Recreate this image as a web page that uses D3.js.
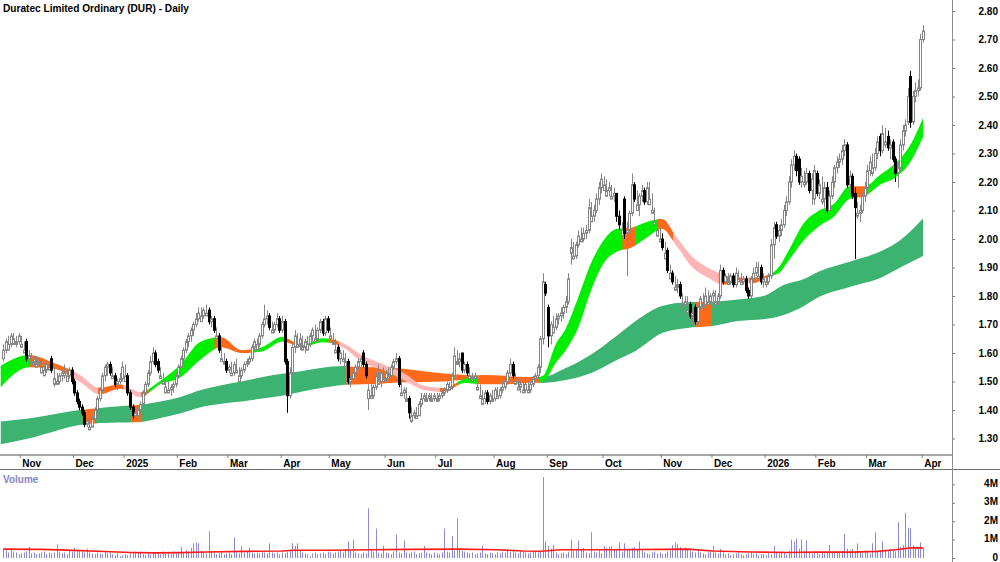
<!DOCTYPE html>
<html>
<head>
<meta charset="utf-8">
<script src="https://cdn.jsdelivr.net/npm/d3@7"></script>
<style>
body { margin: 0; background: #fff; }
svg { display: block; }
</style>
</head>
<body>
<svg id="chart" width="1000" height="562"></svg>
<script>
// daily bars, index 0 = 23 Oct 2024 ... 363 = 1 Apr 2026
let open = [
1.58,1.61,1.61,1.63,1.63,1.63,1.64,1.62,1.60,1.64,
1.58,1.56,1.57,1.55,1.56,1.53,1.52,1.54,1.54,1.58,
1.49,1.49,1.50,1.52,1.52,1.50,1.52,1.54,1.50,1.46,
1.43,1.41,1.39,1.35,1.33,1.34,1.37,1.40,1.44,1.47,
1.52,1.55,1.56,1.51,1.52,1.49,1.50,1.51,1.50,1.52,
1.46,1.41,1.38,1.38,1.40,1.42,1.46,1.49,1.53,1.57,
1.60,1.57,1.51,1.49,1.46,1.46,1.47,1.48,1.49,1.52,
1.55,1.58,1.61,1.64,1.66,1.68,1.70,1.72,1.71,1.73,
1.73,1.75,1.71,1.72,1.65,1.66,1.57,1.56,1.57,1.54,
1.52,1.53,1.53,1.50,1.52,1.54,1.56,1.57,1.58,1.62,
1.61,1.63,1.66,1.70,1.72,1.73,1.67,1.68,1.70,1.72,
1.68,1.71,1.57,1.45,1.53,1.62,1.62,1.63,1.61,1.62,
1.61,1.63,1.66,1.64,1.65,1.68,1.71,1.67,1.72,1.65,
1.63,1.60,1.62,1.58,1.57,1.55,1.57,1.50,1.51,1.53,
1.55,1.57,1.60,1.56,1.44,1.44,1.45,1.48,1.49,1.50,
1.50,1.51,1.51,1.52,1.55,1.57,1.58,1.45,1.46,1.43,
1.44,1.36,1.38,1.37,1.38,1.42,1.44,1.43,1.44,1.43,
1.44,1.43,1.44,1.45,1.46,1.47,1.47,1.48,1.52,1.56,
1.57,1.60,1.54,1.56,1.51,1.50,1.51,1.47,1.44,1.42,
1.44,1.46,1.43,1.43,1.44,1.44,1.45,1.47,1.48,1.50,
1.53,1.56,1.49,1.47,1.48,1.46,1.47,1.46,1.47,1.49,
1.51,1.52,1.55,1.65,1.84,1.76,1.66,1.67,1.69,1.72,
1.73,1.74,1.76,1.78,1.95,1.93,1.94,1.98,1.99,2.00,
2.02,2.03,2.06,2.08,2.10,2.14,2.18,2.17,2.15,2.17,
2.14,2.15,2.16,2.08,2.01,2.14,2.02,2.03,2.09,2.19,
2.10,2.12,2.15,2.17,2.13,2.12,2.09,2.05,2.01,1.99,
2.00,1.93,1.96,1.86,1.88,1.82,1.83,1.84,1.76,1.77,
1.74,1.77,1.73,1.76,1.71,1.76,1.76,1.77,1.77,1.78,
1.80,1.77,1.78,1.80,1.89,1.85,1.84,1.85,1.87,1.84,
1.85,1.84,1.85,1.86,1.82,1.80,1.86,1.88,1.86,1.90,
1.85,1.84,1.85,1.87,1.98,2.05,2.01,2.03,2.05,2.10,
2.13,2.20,2.26,2.29,2.28,2.20,2.19,2.20,2.23,2.17,
2.14,2.23,2.16,2.13,2.14,2.18,2.10,2.15,2.20,2.25,
2.27,2.28,2.31,2.33,2.19,2.22,2.16,2.08,2.09,2.10,
2.15,2.18,2.24,2.23,2.25,2.30,2.36,2.31,2.33,2.36,
2.32,2.34,2.28,2.23,2.25,2.33,2.38,2.41,2.57,2.41,
2.50,2.52,2.53,2.70]
let high = [
1.63,1.65,1.66,1.67,1.67,1.66,1.67,1.66,1.64,1.65,
1.61,1.60,1.59,1.59,1.58,1.58,1.56,1.57,1.57,1.59,
1.55,1.53,1.53,1.54,1.56,1.54,1.55,1.55,1.51,1.47,
1.44,1.42,1.40,1.37,1.37,1.38,1.41,1.45,1.48,1.53,
1.56,1.57,1.57,1.55,1.53,1.51,1.53,1.57,1.56,1.53,
1.47,1.42,1.40,1.41,1.43,1.47,1.50,1.54,1.59,1.62,
1.61,1.58,1.55,1.53,1.51,1.50,1.49,1.50,1.53,1.56,
1.59,1.62,1.65,1.67,1.69,1.71,1.74,1.76,1.76,1.76,
1.77,1.76,1.73,1.73,1.69,1.67,1.62,1.60,1.58,1.56,
1.57,1.57,1.58,1.55,1.55,1.57,1.58,1.59,1.63,1.65,
1.65,1.67,1.71,1.77,1.75,1.74,1.71,1.71,1.74,1.73,
1.73,1.72,1.58,1.55,1.63,1.68,1.67,1.67,1.66,1.65,
1.66,1.67,1.69,1.70,1.69,1.72,1.72,1.73,1.73,1.69,
1.67,1.65,1.63,1.61,1.61,1.60,1.58,1.52,1.54,1.56,
1.58,1.59,1.61,1.57,1.49,1.50,1.49,1.53,1.56,1.54,
1.55,1.54,1.55,1.56,1.58,1.60,1.59,1.50,1.48,1.48,
1.45,1.41,1.40,1.41,1.43,1.46,1.46,1.46,1.46,1.46,
1.46,1.46,1.46,1.47,1.48,1.50,1.50,1.53,1.62,1.61,
1.60,1.60,1.57,1.57,1.55,1.53,1.53,1.52,1.49,1.47,
1.47,1.47,1.46,1.47,1.48,1.48,1.48,1.50,1.52,1.54,
1.58,1.57,1.53,1.51,1.50,1.50,1.50,1.50,1.50,1.52,
1.53,1.56,1.66,1.88,1.85,1.77,1.71,1.73,1.74,1.74,
1.76,1.77,1.80,1.88,2.00,1.99,1.99,2.03,2.04,2.04,
2.05,2.14,2.13,2.12,2.16,2.20,2.23,2.22,2.21,2.20,
2.19,2.18,2.16,2.10,2.06,2.15,2.06,2.10,2.23,2.20,
2.17,2.16,2.19,2.18,2.20,2.20,2.16,2.11,2.07,2.04,
2.02,1.99,1.97,1.91,1.89,1.87,1.86,1.85,1.81,1.80,
1.80,1.78,1.75,1.77,1.77,1.80,1.81,1.83,1.82,1.81,
1.82,1.82,1.81,1.91,1.90,1.88,1.88,1.88,1.88,1.90,
1.89,1.88,1.87,1.87,1.83,1.87,1.90,1.92,1.92,1.91,
1.88,1.87,1.88,2.00,2.06,2.06,2.05,2.07,2.12,2.15,
2.22,2.28,2.31,2.30,2.29,2.25,2.24,2.25,2.24,2.23,
2.26,2.24,2.21,2.22,2.20,2.20,2.17,2.22,2.26,2.29,
2.30,2.33,2.35,2.34,2.24,2.23,2.18,2.13,2.12,2.16,
2.20,2.26,2.29,2.30,2.32,2.36,2.37,2.40,2.39,2.38,
2.35,2.35,2.29,2.27,2.35,2.40,2.42,2.53,2.59,2.52,
2.55,2.56,2.72,2.75]
let low = [
1.57,1.60,1.61,1.62,1.63,1.62,1.63,1.62,1.60,1.57,
1.57,1.56,1.55,1.55,1.55,1.53,1.52,1.53,1.54,1.53,
1.48,1.49,1.49,1.50,1.51,1.50,1.51,1.49,1.45,1.42,
1.40,1.38,1.34,1.34,1.33,1.34,1.36,1.39,1.43,1.46,
1.50,1.52,1.52,1.51,1.48,1.47,1.49,1.50,1.50,1.45,
1.40,1.37,1.37,1.37,1.39,1.41,1.45,1.48,1.52,1.56,
1.55,1.53,1.51,1.49,1.46,1.46,1.45,1.46,1.48,1.51,
1.54,1.57,1.60,1.62,1.64,1.66,1.69,1.71,1.71,1.72,
1.73,1.70,1.69,1.67,1.65,1.60,1.57,1.56,1.53,1.53,
1.52,1.52,1.53,1.49,1.51,1.53,1.55,1.56,1.57,1.61,
1.61,1.62,1.65,1.69,1.70,1.68,1.67,1.67,1.69,1.67,
1.67,1.56,1.39,1.44,1.52,1.60,1.62,1.61,1.61,1.60,
1.61,1.62,1.64,1.64,1.64,1.67,1.66,1.66,1.67,1.65,
1.63,1.60,1.57,1.56,1.57,1.55,1.49,1.48,1.50,1.52,
1.54,1.55,1.55,1.51,1.40,1.44,1.44,1.47,1.49,1.48,
1.50,1.50,1.51,1.51,1.54,1.56,1.48,1.45,1.44,1.43,
1.37,1.355,1.37,1.37,1.38,1.41,1.43,1.43,1.43,1.43,
1.43,1.43,1.43,1.44,1.45,1.46,1.47,1.47,1.51,1.56,
1.55,1.53,1.53,1.52,1.51,1.50,1.49,1.47,1.44,1.42,
1.42,1.42,1.42,1.43,1.43,1.44,1.44,1.46,1.47,1.49,
1.52,1.51,1.49,1.47,1.46,1.46,1.46,1.46,1.46,1.48,
1.50,1.51,1.53,1.63,1.80,1.62,1.63,1.67,1.68,1.70,
1.71,1.72,1.74,1.77,1.91,1.93,1.93,1.97,1.99,1.99,
2.00,2.02,2.06,2.06,2.09,2.12,2.16,2.17,2.15,2.15,
2.14,2.13,2.06,2.03,2.01,2.00,1.87,2.00,2.08,2.13,
2.10,2.08,2.13,2.12,2.12,2.12,2.09,2.05,2.01,1.99,
1.96,1.93,1.88,1.86,1.84,1.82,1.81,1.79,1.76,1.75,
1.74,1.72,1.70,1.70,1.70,1.75,1.76,1.76,1.77,1.77,
1.78,1.77,1.77,1.79,1.84,1.84,1.84,1.84,1.83,1.83,
1.85,1.84,1.84,1.81,1.79,1.79,1.85,1.87,1.86,1.84,
1.83,1.83,1.84,1.86,1.93,2.00,1.99,2.01,2.04,2.08,
2.12,2.18,2.24,2.22,2.19,2.18,2.18,2.19,2.16,2.12,
2.12,2.15,2.14,2.12,2.11,2.09,2.08,2.14,2.18,2.23,
2.25,2.26,2.29,2.18,2.16,2.14,1.93,2.07,2.06,2.09,
2.13,2.17,2.22,2.22,2.24,2.28,2.29,2.30,2.32,2.31,
2.28,2.27,2.20,2.18,2.24,2.31,2.36,2.40,2.39,2.40,
2.48,2.50,2.52,2.69]
let close = [
1.61,1.64,1.63,1.66,1.65,1.64,1.66,1.63,1.61,1.58,
1.59,1.57,1.58,1.56,1.57,1.55,1.54,1.56,1.55,1.54,
1.51,1.50,1.52,1.53,1.53,1.52,1.54,1.50,1.46,1.43,
1.41,1.39,1.35,1.36,1.34,1.37,1.40,1.44,1.47,1.52,
1.55,1.56,1.53,1.52,1.49,1.50,1.51,1.55,1.52,1.46,
1.41,1.38,1.39,1.40,1.42,1.46,1.49,1.53,1.57,1.60,
1.56,1.54,1.52,1.50,1.48,1.47,1.48,1.49,1.52,1.55,
1.58,1.61,1.64,1.66,1.68,1.70,1.72,1.74,1.73,1.75,
1.74,1.71,1.72,1.68,1.66,1.61,1.58,1.57,1.54,1.55,
1.53,1.56,1.54,1.52,1.54,1.56,1.57,1.58,1.62,1.64,
1.63,1.66,1.70,1.72,1.73,1.69,1.68,1.70,1.72,1.68,
1.71,1.57,1.45,1.53,1.62,1.66,1.63,1.65,1.62,1.64,
1.63,1.66,1.68,1.65,1.68,1.71,1.67,1.72,1.68,1.66,
1.64,1.61,1.58,1.60,1.58,1.57,1.50,1.51,1.53,1.55,
1.57,1.58,1.56,1.52,1.47,1.45,1.48,1.52,1.50,1.53,
1.51,1.53,1.52,1.55,1.57,1.58,1.49,1.46,1.47,1.44,
1.39,1.38,1.39,1.38,1.42,1.44,1.45,1.44,1.45,1.44,
1.45,1.44,1.45,1.46,1.47,1.49,1.48,1.52,1.59,1.57,
1.58,1.54,1.56,1.53,1.52,1.51,1.52,1.48,1.45,1.44,
1.46,1.43,1.45,1.44,1.47,1.45,1.47,1.48,1.50,1.53,
1.56,1.52,1.50,1.48,1.49,1.47,1.49,1.47,1.49,1.51,
1.52,1.55,1.65,1.85,1.81,1.66,1.70,1.69,1.72,1.73,
1.74,1.76,1.78,1.86,1.97,1.94,1.98,2.01,2.00,2.02,
2.03,2.11,2.08,2.10,2.14,2.18,2.21,2.19,2.17,2.18,
2.15,2.16,2.08,2.05,2.03,2.02,2.03,2.09,2.19,2.14,
2.12,2.15,2.17,2.13,2.18,2.14,2.10,2.06,2.03,2.00,
1.97,1.95,1.89,1.88,1.85,1.83,1.84,1.80,1.77,1.78,
1.75,1.73,1.74,1.71,1.76,1.79,1.77,1.80,1.78,1.80,
1.81,1.78,1.80,1.89,1.85,1.87,1.85,1.87,1.84,1.88,
1.86,1.85,1.86,1.82,1.80,1.86,1.88,1.90,1.87,1.85,
1.86,1.85,1.87,1.98,2.04,2.01,2.03,2.05,2.10,2.13,
2.20,2.26,2.29,2.24,2.20,2.22,2.20,2.23,2.17,2.21,
2.24,2.16,2.19,2.14,2.18,2.10,2.15,2.20,2.25,2.27,
2.28,2.31,2.33,2.19,2.22,2.15,2.11,2.09,2.10,2.15,
2.18,2.24,2.27,2.25,2.30,2.34,2.31,2.37,2.34,2.32,
2.33,2.28,2.23,2.25,2.33,2.38,2.40,2.50,2.41,2.50,
2.52,2.53,2.70,2.73]
// volume in millions of shares
let volume = [
0.50,0.45,0.30,0.55,0.35,0.30,0.20,0.25,0.30,0.35,
0.60,0.25,0.30,0.20,0.25,0.30,0.35,0.20,0.30,0.25,
0.30,0.75,0.35,0.25,0.30,0.20,0.40,0.35,0.55,0.45,
0.40,0.35,0.30,0.50,0.30,0.25,0.20,0.30,0.25,0.20,
0.35,0.25,0.30,0.20,0.15,0.25,0.10,0.15,0.20,0.15,
0.25,0.30,0.35,0.30,0.35,0.20,0.15,0.25,0.20,0.30,
0.25,0.30,0.20,0.35,0.25,0.30,0.20,0.35,0.25,0.30,
0.60,0.30,0.45,0.35,0.55,0.80,0.85,0.80,0.40,0.30,
0.25,1.45,0.35,0.30,0.20,0.25,0.30,0.20,0.25,0.30,
0.20,1.12,0.30,0.25,0.63,0.30,0.35,0.55,0.30,0.25,
0.30,0.25,0.35,0.30,0.25,0.80,0.30,0.25,0.30,0.20,
0.30,0.25,0.35,0.40,0.80,0.65,0.80,0.40,0.30,0.25,
0.20,0.10,0.25,0.30,0.20,0.25,0.30,0.20,0.35,0.30,
0.25,0.30,0.35,0.40,0.30,0.50,0.90,0.40,1.00,0.30,
0.25,0.20,0.30,0.25,2.70,0.45,0.35,1.60,0.30,0.25,
0.65,0.30,0.25,0.20,0.35,1.28,0.30,0.25,0.95,0.30,
0.25,0.30,0.35,0.20,0.25,0.30,0.65,0.30,0.25,0.20,
0.30,0.25,0.20,0.30,1.60,0.35,0.30,1.20,0.40,2.15,
0.50,0.40,0.35,0.30,0.25,0.30,0.20,0.25,0.30,0.65,
0.25,0.20,0.30,0.25,0.20,0.30,0.25,0.35,0.30,0.40,
0.35,0.45,0.30,0.25,0.40,0.35,0.30,0.25,0.30,0.35,
0.40,0.30,0.35,4.40,0.90,0.65,0.50,0.70,0.30,0.20,
0.25,0.30,0.20,0.35,1.00,0.40,0.50,0.95,0.45,0.55,
0.30,0.25,1.40,0.35,0.30,0.40,0.25,0.65,0.55,0.60,
0.65,0.45,0.50,0.85,0.35,0.80,0.50,0.45,0.55,0.60,
0.50,0.90,0.40,0.30,0.25,0.20,0.30,0.35,0.25,0.30,
0.20,0.25,0.35,0.40,0.70,0.85,0.75,0.60,0.50,0.55,
0.45,0.40,0.35,0.30,0.40,0.30,0.25,0.20,0.30,0.35,
0.65,0.30,0.25,0.50,0.30,0.20,0.25,0.15,0.20,0.25,
0.30,0.20,0.15,0.20,0.25,0.30,0.20,0.25,0.15,0.20,
0.20,0.15,0.25,0.20,0.65,0.30,0.25,0.35,0.30,0.20,
0.40,1.00,0.90,1.05,0.50,1.00,0.40,0.95,0.30,0.25,
0.30,0.25,0.20,0.30,0.25,0.35,0.70,0.30,0.25,0.30,
0.35,0.40,1.30,0.50,0.45,0.50,0.35,0.80,0.30,0.25,
0.30,0.35,0.25,0.80,1.40,0.40,0.35,0.90,0.45,0.40,
0.50,0.40,0.35,1.95,0.60,0.70,2.45,1.65,1.60,0.70,
0.55,0.50,0.85,0.55]

// volume moving average, read at these bars
let volMaIdx = [0,15,25,40,50,60,70,80,95,110,115,130,145,160,180,195,205,212,220,240,260,270,280,295,310,320,335,345,352,358,363]
let volMa    = [0.48,0.47,0.43,0.35,0.30,0.28,0.29,0.33,0.36,0.38,0.42,0.42,0.45,0.47,0.48,0.45,0.38,0.37,0.45,0.45,0.47,0.48,0.38,0.33,0.30,0.33,0.32,0.36,0.45,0.55,0.55]

// short term moving average band (edges read at these bars)
let shortIdx = [-1,10,20,30,38,46,54,62,70,78,86,94,102,110,118,126,134,142,150,158,166,174,182,190,198,206,213,218,222,227,232,237,242,248,254,260,266,272,278,284,290,296,302,306,310,316,322,328,334,340,346,352,358,363]
let shortTop = [1.555,1.593,1.565,1.525,1.478,1.49,1.463,1.503,1.56,1.64,1.655,1.61,1.62,1.656,1.628,1.652,1.635,1.59,1.56,1.53,1.485,1.477,1.51,1.523,1.52,1.505,1.52,1.63,1.685,1.797,1.916,1.996,2.035,2.04,2.06,2.07,2.003,1.937,1.90,1.875,1.865,1.865,1.875,1.90,1.96,2.056,2.10,2.125,2.185,2.185,2.225,2.265,2.33,2.425]
let shortBot = [1.48,1.55,1.545,1.50,1.455,1.475,1.446,1.49,1.515,1.578,1.62,1.60,1.605,1.64,1.62,1.638,1.62,1.565,1.54,1.505,1.47,1.463,1.495,1.49,1.49,1.495,1.50,1.565,1.61,1.69,1.82,1.916,1.955,1.97,2.005,2.035,1.972,1.90,1.865,1.84,1.85,1.845,1.868,1.88,1.925,1.996,2.045,2.08,2.14,2.15,2.19,2.215,2.27,2.358]
let shortColStart = [0,11,27,38,48,55,58,84,99,111,118,129,133,173,180,188,212,245,250,259,265,283,292,295,303,336,342]
let shortColKey = ["up","mix","down","mix","down","mix","up","mix","up","mix","up","mix","down","mix","up","mix","up","mix","up","mix","down","mix","down","mix","up","mix","up"]

// long term moving average band
let longIdx = [-1,10,20,30,38,46,54,62,70,78,86,94,102,110,118,126,134,142,150,158,166,174,182,190,198,206,213,222,232,242,250,260,270,280,290,300,308,316,322,334,347,354,363]
let longTop = [1.36,1.37,1.385,1.40,1.407,1.413,1.418,1.43,1.446,1.47,1.487,1.50,1.515,1.527,1.537,1.548,1.554,1.551,1.549,1.545,1.536,1.528,1.523,1.52,1.518,1.516,1.516,1.547,1.595,1.66,1.715,1.765,1.778,1.78,1.788,1.80,1.839,1.86,1.886,1.92,1.96,1.996,2.072]
let longBot = [1.28,1.30,1.325,1.347,1.354,1.356,1.358,1.372,1.389,1.41,1.422,1.43,1.44,1.45,1.465,1.478,1.488,1.49,1.493,1.497,1.498,1.50,1.505,1.503,1.50,1.497,1.495,1.505,1.53,1.575,1.61,1.67,1.688,1.695,1.712,1.718,1.733,1.765,1.797,1.832,1.867,1.90,1.94]
let longColStart = [0,32,37,51,55,136,212,274,280]
let longColKey = ["up","mix","up","mix","up","mix","up","mix","up"]

let monthLabels = ["Nov","Dec","2025","Feb","Mar","Apr","May","Jun","Jul","Aug","Sep","Oct","Nov","Dec","2026","Feb","Mar","Apr"]
let monthStart = [7,28,48,69,89,110,129,151,171,194,215,237,260,280,301,321,341,363]
let priceTicks = [1.30,1.40,1.50,1.60,1.70,1.80,1.90,2.00,2.10,2.20,2.30,2.40,2.50,2.60,2.70,2.80]
let volTicks = [0,1,2,3,4]

let font = "'Liberation Sans', Arial, sans-serif"
let svg = d3.select("#chart")
let plotRight = 952
let x = d3.scaleLinear().domain([0, 363]).range([3.3, 923])
let y = d3.scaleLinear().domain([1.30, 2.80]).range([438.5, 11])
let yv = d3.scaleLinear().domain([0, 4]).range([558, 484.4])
let colours = {mix: "#ff6a1a", down: "#ffb5b5"}

function ribbon(idx, top, bot, starts, keys, upColour, key) {
    let area = d3.area()
        .x(d => x(d))
        .y0((d, i) => y(bot[i]))
        .y1((d, i) => y(top[i]))
        .curve(d3.curveMonotoneX)
    let path = area(idx)
    let g = svg.append("g")
    starts.forEach((s, k) => {
        let e = k < starts.length - 1 ? starts[k + 1] : 364
        let x0 = k == 0 ? 0 : x(s - 0.5) - 0.3
        let x1 = x(e - 0.5) + 0.3
        g.append("clipPath").attr("id", `${key}${k}`)
            .append("rect").attr("x", x0).attr("y", 0)
            .attr("width", x1 - x0).attr("height", 455)
        g.append("path").attr("d", path)
            .attr("fill", keys[k] == "up" ? upColour : colours[keys[k]])
            .attr("clip-path", `url(#${key}${k})`)
    })
}

ribbon(longIdx, longTop, longBot, longColStart, longColKey, "#3cb371", "lc")
ribbon(shortIdx, shortTop, shortBot, shortColStart, shortColKey, "#00ee00", "sc")

// candles
let down = i => close[i] < open[i]
let candles = svg.append("g")
candles.selectAll(".wick")
    .data(close)
    .enter()
    .append("line")
    .attr("x1", (d, i) => Math.round(x(i)) + 0.5)
    .attr("x2", (d, i) => Math.round(x(i)) + 0.5)
    .attr("y1", (d, i) => y(high[i]))
    .attr("y2", (d, i) => y(low[i]))
    .attr("stroke", (d, i) => down(i) ? "#000" : "#858585")
candles.selectAll(".body")
    .data(close)
    .enter()
    .append("rect")
    .attr("x", (d, i) => Math.round(x(i)) - 0.5)
    .attr("width", 2)
    .attr("y", (d, i) => y(Math.max(open[i], close[i])))
    .attr("height", (d, i) => Math.max(0.5, Math.abs(y(open[i]) - y(close[i]))))
    .attr("fill", (d, i) => down(i) ? "#000" : "#fff")
    .attr("stroke", (d, i) => down(i) ? "#000" : "#858585")

// volume
svg.append("g").selectAll("rect")
    .data(volume)
    .enter()
    .append("rect")
    .attr("x", (d, i) => Math.round(x(i)))
    .attr("width", 1)
    .attr("y", d => yv(d))
    .attr("height", d => yv(0) - yv(d))
    .attr("fill", "#8a8ad6")

let maLine = d3.line().x(d => x(d)).y((d, i) => yv(volMa[i]))
svg.append("path").attr("d", maLine(volMaIdx))
    .attr("fill", "none").attr("stroke", "#ff1a1a").attr("stroke-width", 1.6)

// frame lines
svg.append("line").attr("x1", 0).attr("x2", plotRight).attr("y1", 455).attr("y2", 455)
    .attr("stroke", "#a6a6a6").attr("stroke-width", 2)
svg.append("line").attr("x1", 0).attr("x2", 1000).attr("y1", 469.5).attr("y2", 469.5)
    .attr("stroke", "#6e6e6e")
svg.append("line").attr("x1", plotRight + 0.5).attr("x2", plotRight + 0.5).attr("y1", 0).attr("y2", 562)
    .attr("stroke", "#8c8c8c")

function styleAxis(g) {
    g.attr("font-family", font).attr("font-size", 10).attr("font-weight", "bold")
    g.select(".domain").remove()
    g.selectAll("line").attr("stroke", "#808080")
    g.selectAll("text").attr("fill", "#000")
}

// month axis
let xAxis = d3.axisBottom(x)
    .tickValues(monthStart.map(i => i - 0.5))
    .tickSize(3)
    .tickFormat(d => monthLabels[monthStart.indexOf(d + 0.5)])
svg.append("g").attr("transform", "translate(0,455)")
    .call(xAxis)
    .call(styleAxis)
    .call(g => g.selectAll("text").attr("x", 2).attr("y", 12).attr("dy", null).attr("text-anchor", "start"))

// price axis
let yAxis = d3.axisRight(y).tickValues(priceTicks).tickSize(3).tickFormat(d3.format(".2f"))
svg.append("g").attr("transform", `translate(${plotRight},0)`)
    .call(yAxis)
    .call(styleAxis)
    .call(g => g.selectAll("text").attr("x", 46).attr("text-anchor", "end"))

// volume axis
let vAxis = d3.axisRight(yv).tickValues(volTicks).tickSize(3).tickFormat(d => d == 0 ? "0" : d + "M")
svg.append("g").attr("transform", `translate(${plotRight},0)`)
    .call(vAxis)
    .call(styleAxis)
    .call(g => g.selectAll("text").attr("x", 46).attr("dy", "0.2em").attr("text-anchor", "end"))

// titles
svg.append("text")
    .attr("x", 3).attr("y", 11.5)
    .attr("font-family", font).attr("font-size", 10).attr("font-weight", "bold")
    .attr("textLength", 186).attr("lengthAdjust", "spacingAndGlyphs")
    .text("Duratec Limited Ordinary (DUR) - Daily")
svg.append("text")
    .attr("x", 3).attr("y", 482.5)
    .attr("font-family", font).attr("font-size", 10).attr("font-weight", "bold")
    .attr("fill", "#8585c2")
    .text("Volume")
</script>
</body>
</html>
